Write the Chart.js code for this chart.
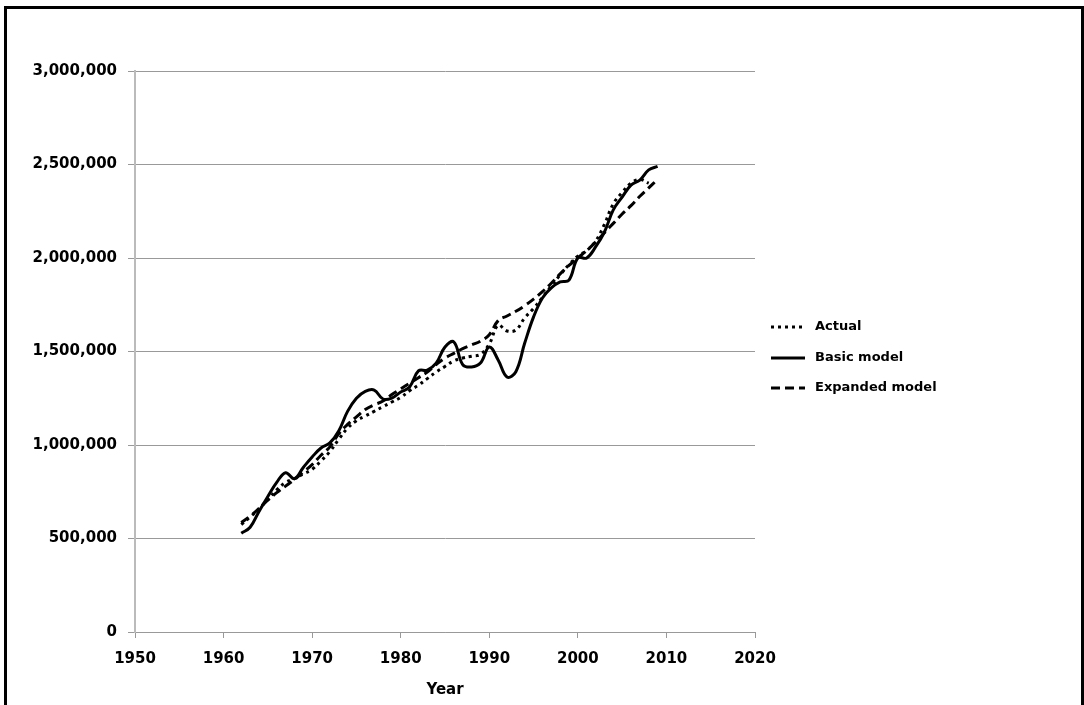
<!DOCTYPE html>
<html>
<head>
<meta charset="utf-8">
<script src="https://cdn.jsdelivr.net/npm/chart.js@4.4.1/dist/chart.umd.min.js"></script>
<style>
  html, body { margin: 0; padding: 0; background: #fff; }
  #wrap { position: relative; width: 1084px; height: 705px; overflow: hidden; }
  #frame {
    position: absolute; left: 4px; top: 6px; width: 1074px; height: 720px;
    border: 3px solid #000; border-bottom: none;
  }
  canvas { position: absolute; left: 0; top: 0; }
</style>
</head>
<body>
<div id="wrap">
  <div id="frame"></div>
  <canvas id="chart" width="1084" height="705"></canvas>
</div>
<script>
// Years 1962..2009
const years = [1962, 1963, 1964, 1965, 1966, 1967, 1968, 1969, 1970, 1971,
               1972, 1973, 1974, 1975, 1976, 1977, 1978, 1979, 1980, 1981,
               1982, 1983, 1984, 1985, 1986, 1987, 1988, 1989, 1990, 1991,
               1992, 1993, 1994, 1995, 1996, 1997, 1998, 1999, 2000, 2001,
               2002, 2003, 2004, 2005, 2006, 2007, 2008, 2009];

const actual = [575000, 615000, 660000, 710000, 760000, 800000, 820000, 845000, 870000, 915000,
                965000, 1030000, 1090000, 1130000, 1155000, 1180000, 1205000, 1230000, 1255000, 1290000,
                1320000, 1355000, 1390000, 1420000, 1450000, 1465000, 1475000, 1485000, 1540000, 1640000,
                1610000, 1615000, 1680000, 1730000, 1790000, 1850000, 1910000, 1965000, 2010000, 2040000,
                2090000, 2180000, 2290000, 2350000, 2400000, 2420000, 2400000, null];

const basicModel = [528000, 560000, 645000, 725000, 800000, 852000, 820000, 880000, 936000, 984000,
                    1011000, 1075000, 1180000, 1250000, 1287000, 1294000, 1246000, 1251000, 1283000, 1310000,
                    1396000, 1401000, 1438000, 1524000, 1551000, 1430000, 1417000, 1438000, 1524000, 1455000,
                    1364000, 1392000, 1545000, 1685000, 1786000, 1840000, 1872000, 1882000, 2000000, 2000000,
                    2059000, 2139000, 2257000, 2326000, 2390000, 2417000, 2471000, 2490000];

const expandedModel = [585000, 620000, 660000, 705000, 745000, 780000, 815000, 855000, 895000, 945000,
                       990000, 1060000, 1110000, 1150000, 1190000, 1215000, 1235000, 1270000, 1300000, 1330000,
                       1360000, 1390000, 1430000, 1465000, 1490000, 1515000, 1535000, 1555000, 1590000, 1665000,
                       1690000, 1715000, 1745000, 1780000, 1820000, 1865000, 1915000, 1960000, 2000000, 2040000,
                       2085000, 2135000, 2185000, 2235000, 2280000, 2330000, 2375000, 2420000];

const seriesNames = ['Actual', 'Basic model', 'Expanded model'];
const xTicks = [1950, 1960, 1970, 1980, 1990, 2000, 2010, 2020];
const yTicks = [0, 500000, 1000000, 1500000, 2000000, 2500000, 3000000];

const tickFont = { family: 'DejaVu Sans', weight: 'bold', size: 15 };

function pts(vals) {
    return years.map((y, i) => ({ x: y, y: vals[i] }));
}

// legend drawn by hand, Excel style (line sample + label)
const sideLegend = {
    id: 'sideLegend',
    afterDraw(chart) {
        const c = chart.ctx;
        const x0 = 771, x1 = 805, tx = 815;
        const rows = [327, 358, 388];
        chart.data.datasets.forEach((ds, i) => {
            const y = rows[i];
            c.save();
            c.strokeStyle = '#000';
            c.lineWidth = ds.borderWidth;
            c.setLineDash(ds.borderDash || []);
            c.beginPath();
            c.moveTo(x0, y);
            c.lineTo(x1, y);
            c.stroke();
            c.restore();
            c.fillStyle = '#000';
            c.font = 'bold 13px "DejaVu Sans"';
            c.textBaseline = 'middle';
            c.fillText(ds.label, tx, y);
        });
    }
};

new Chart(document.getElementById('chart'), {
    type: 'line',
    data: {
        datasets: [
            {
                label: seriesNames[0],
                data: pts(actual),
                borderColor: '#000',
                borderWidth: 3,
                borderDash: [3, 4],
                pointRadius: 0,
                tension: 0.4,
                fill: false
            },
            {
                label: seriesNames[1],
                data: pts(basicModel),
                borderColor: '#000',
                borderWidth: 3,
                pointRadius: 0,
                tension: 0.4,
                fill: false
            },
            {
                label: seriesNames[2],
                data: pts(expandedModel),
                borderColor: '#000',
                borderWidth: 3,
                borderDash: [9, 5],
                pointRadius: 0,
                tension: 0.4,
                fill: false
            }
        ]
    },
    options: {
        responsive: false,
        animation: false,
        layout: { padding: { left: 0, right: 329, top: 71, bottom: 0 } },
        plugins: {
            legend: { display: false },
            tooltip: { enabled: false }
        },
        scales: {
            x: {
                type: 'linear',
                min: 1950,
                max: 2020,
                afterFit: s => { s.height = 73; },
                afterBuildTicks: s => { s.ticks = xTicks.map(v => ({ value: v })); },
                grid: { drawOnChartArea: false, color: '#999', tickLength: 6 },
                border: { color: '#999', width: 1 },
                ticks: {
                    color: '#000',
                    font: tickFont,
                    padding: 12,
                    maxRotation: 0,
                    callback: v => String(v)
                },
                title: {
                    display: true,
                    text: 'Year',
                    color: '#000',
                    font: { family: 'DejaVu Sans', weight: 'bold', size: 15 },
                    padding: { top: 6, bottom: 6 }
                }
            },
            y: {
                min: 0,
                max: 3000000,
                afterFit: s => { s.width = 135; },
                afterBuildTicks: s => { s.ticks = yTicks.map(v => ({ value: v })); },
                grid: { color: '#999', tickLength: 7 },
                border: { color: '#bbb', width: 2 },
                ticks: {
                    color: '#000',
                    font: tickFont,
                    padding: 11,
                    callback: v => v.toLocaleString('en-US')
                }
            }
        }
    },
    plugins: [sideLegend]
});
</script>
</body>
</html>
